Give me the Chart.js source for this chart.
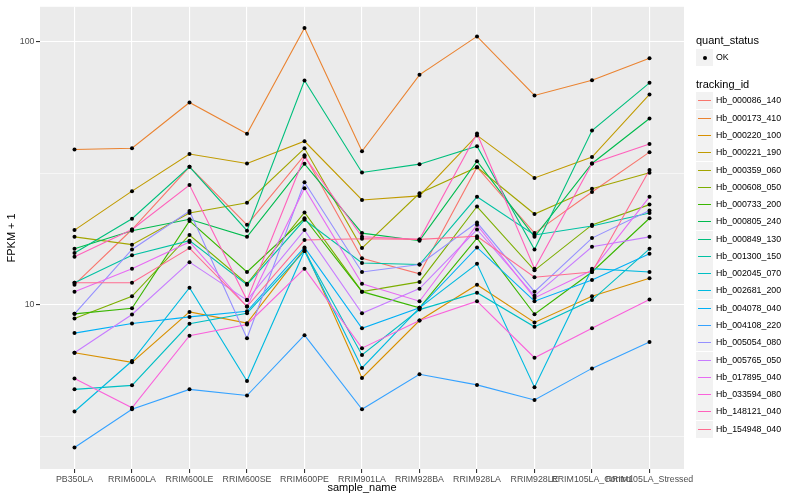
<!DOCTYPE html>
<html>
<head>
<meta charset="utf-8">
<script src="https://cdn.jsdelivr.net/npm/chart.js@4.4.0/dist/chart.umd.min.js"></script>
<style>
  body { margin: 0; background: #fff; }
  #wrap { position: relative; width: 800px; height: 500px; font-family: "Liberation Sans", Arial, sans-serif; }
  #wrap canvas { position: absolute; left: 0; top: 0; }
  .ttl { position: absolute; font-size: 11px; line-height: 14px; white-space: nowrap; color: #000; }
  .key { position: absolute; width: 17px; height: 17px; background: #F2F2F2; }
  .lab { position: absolute; font-size: 8.8px; line-height: 17px; white-space: nowrap; color: #000; }
  .seg { position: absolute; left: 2px; width: 13px; height: 1px; }
</style>
</head>
<body>
<div id="wrap">
  <canvas id="FpkmPlot" width="800" height="500"></canvas>
</div>
<script>
const sampleNames = ['PB350LA', 'RRIM600LA', 'RRIM600LE', 'RRIM600SE', 'RRIM600PE', 'RRIM901LA',
  'RRIM928BA', 'RRIM928LA', 'RRIM928LE', 'RRIM105LA_Control', 'RRIM105LA_Stressed']

const trackingIds = ['Hb_000086_140', 'Hb_000173_410', 'Hb_000220_100', 'Hb_000221_190', 'Hb_000359_060',
  'Hb_000608_050', 'Hb_000733_200', 'Hb_000805_240', 'Hb_000849_130', 'Hb_001300_150',
  'Hb_002045_070', 'Hb_002681_200', 'Hb_004078_040', 'Hb_004108_220', 'Hb_005054_080',
  'Hb_005765_050', 'Hb_017895_040', 'Hb_033594_080', 'Hb_148121_040', 'Hb_154948_040']

const seriesColors = ['#F8766D', '#EA8331', '#D89000', '#C09B00', '#A3A500', '#7CAE00', '#39B600', '#00BB4E',
  '#00BF7D', '#00C1A3', '#00BFC4', '#00BAE0', '#00B0F6', '#35A2FF', '#9590FF', '#C77CFF',
  '#E76BF3', '#FA62DB', '#FF62BC', '#FF6C91']

// FPKM + 1, one value per sample_name
const hb_000086_140 = [11.9, 19.3, 33.4, 20.1, 37.0, 15.0, 13.1, 33.3, 18.7, 26.8, 38.0]
const hb_000173_410 = [38.9, 39.3, 58.7, 44.6, 112.7, 38.3, 74.8, 104.7, 62.4, 71.3, 86.5]
const hb_000220_100 = [6.56, 6.03, 9.38, 8.50, 16.3, 5.26, 8.70, 11.9, 8.55, 10.75, 12.6]
const hb_000221_190 = [19.2, 27.0, 37.4, 34.4, 41.8, 25.0, 25.9, 44.0, 30.3, 36.4, 63.0]
const hb_000359_060 = [18.1, 16.9, 22.3, 24.4, 39.3, 16.4, 26.5, 33.3, 22.1, 27.6, 31.7]
const hb_000608_050 = [8.85, 10.75, 18.4, 12.0, 22.4, 11.2, 12.2, 23.6, 13.5, 20.1, 24.0]
const hb_000733_200 = [9.22, 9.68, 20.8, 13.3, 21.3, 11.2, 9.72, 17.9, 9.19, 13.3, 21.3]
const hb_000805_240 = [16.3, 19.1, 21.1, 18.1, 34.3, 18.7, 17.5, 35.1, 18.1, 34.4, 51.0]
const hb_000849_130 = [15.7, 21.2, 33.4, 19.1, 71.2, 31.8, 34.2, 40.0, 16.2, 45.9, 69.7]
const hb_001300_150 = [12.1, 15.4, 17.5, 11.9, 21.0, 14.4, 14.2, 25.7, 18.4, 19.9, 22.3]
const hb_002045_070 = [4.76, 4.93, 8.45, 9.27, 16.0, 6.43, 9.57, 11.1, 8.23, 10.4, 16.3]
const hb_002681_200 = [3.92, 6.10, 11.6, 5.12, 16.0, 5.74, 9.72, 14.3, 4.85, 13.7, 13.3]
const hb_004078_040 = [7.79, 8.47, 8.98, 9.43, 16.5, 8.13, 9.72, 16.5, 10.3, 12.4, 15.6]
const hb_004108_220 = [2.86, 4.00, 4.76, 4.51, 7.65, 4.00, 5.43, 4.95, 4.34, 5.72, 7.20]
const hb_005054_080 = [9.22, 16.2, 22.7, 7.45, 29.2, 13.3, 14.2, 20.5, 11.2, 17.9, 22.8]
const hb_005765_050 = [6.56, 9.17, 14.5, 10.4, 19.2, 9.27, 11.5, 19.3, 10.8, 16.6, 18.1]
const hb_017895_040 = [11.2, 13.7, 17.3, 9.83, 27.7, 12.0, 10.3, 20.1, 10.6, 13.5, 25.7]
const hb_033594_080 = [5.23, 4.05, 7.61, 8.40, 13.7, 6.83, 8.70, 10.3, 6.28, 8.13, 10.45]
const hb_148121_040 = [15.2, 19.3, 28.5, 10.4, 36.5, 18.1, 17.7, 44.7, 13.7, 34.4, 40.8]
const hb_154948_040 = [12.1, 12.1, 16.4, 9.83, 17.6, 17.8, 17.7, 18.2, 12.7, 13.3, 32.5]

const seriesValues = [hb_000086_140, hb_000173_410, hb_000220_100, hb_000221_190, hb_000359_060,
  hb_000608_050, hb_000733_200, hb_000805_240, hb_000849_130, hb_001300_150,
  hb_002045_070, hb_002681_200, hb_004078_040, hb_004108_220, hb_005054_080,
  hb_005765_050, hb_017895_040, hb_033594_080, hb_148121_040, hb_154948_040]

const yMajorTicks = [10, 100]
const yMinorTicks = [3.1623, 31.623]

const family = '"Liberation Sans", Arial, sans-serif'

const panelBg = {
  id: 'panelBg',
  beforeDraw(chart) {
    const { ctx, chartArea: a } = chart
    ctx.save()
    ctx.fillStyle = '#EBEBEB'
    ctx.fillRect(a.left, a.top, a.right - a.left, a.bottom - a.top)
    ctx.restore()
  }
}

const lineSets = trackingIds.map((id, i) => ({
  label: id,
  data: seriesValues[i].map((v, j) => ({ x: j, y: v })),
  borderColor: seriesColors[i],
  borderWidth: 1.1,
  pointRadius: 0,
  showLine: true,
  fill: false,
  tension: 0,
  order: 100 - i
}))

const pointSet = {
  label: 'OK',
  data: seriesValues.flatMap(s => s.map((v, j) => ({ x: j, y: v }))),
  showLine: false,
  pointRadius: 2,
  pointBackgroundColor: '#000',
  pointBorderWidth: 0,
  order: 0
}

new Chart(document.getElementById('FpkmPlot'), {
  type: 'scatter',
  data: { datasets: [...lineSets, pointSet] },
  options: {
    responsive: false,
    animation: false,
    devicePixelRatio: 1,
    layout: { padding: { top: 5, right: 116, left: 0, bottom: 0 } },
    plugins: { legend: { display: false }, tooltip: { enabled: false } },
    scales: {
      x: {
        type: 'linear',
        min: -0.6,
        max: 10.6,
        afterBuildTicks: s => { s.ticks = sampleNames.map((n, i) => ({ value: i })) },
        afterFit: s => { s.height = 31 },
        ticks: {
          autoSkip: false, maxRotation: 0, minRotation: 0, padding: 1,
          color: '#4D4D4D', font: { size: 8.8, family },
          callback: v => sampleNames[v]
        },
        grid: { color: '#FFFFFF', lineWidth: 1.1, tickColor: '#333333', tickLength: 4 },
        border: { display: false },
        title: { display: true, text: 'sample_name', color: '#000', font: { size: 11, family }, padding: { top: 0, bottom: 5 } }
      },
      y: {
        type: 'logarithmic',
        min: 2.37,
        max: 135.7,
        afterBuildTicks: s => {
          s.ticks = yMinorTicks.concat(yMajorTicks).sort((a, b) => a - b).map(v => ({ value: v }))
        },
        afterFit: s => { s.width = 40 },
        ticks: {
          padding: 1.5, color: '#4D4D4D', font: { size: 8.8, family },
          callback: v => yMajorTicks.includes(v) ? String(v) : ''
        },
        grid: {
          color: '#FFFFFF',
          lineWidth: c => yMajorTicks.includes(c.tick.value) ? 1.1 : 0.55,
          tickColor: c => yMajorTicks.includes(c.tick.value) ? '#333333' : 'rgba(0,0,0,0)',
          tickLength: 4
        },
        border: { display: false },
        title: { display: true, text: 'FPKM + 1', color: '#000', font: { size: 11, family }, padding: { top: 5, bottom: 0 } }
      }
    }
  },
  plugins: [panelBg]
})

/* legend, ggplot style */
const wrap = document.getElementById('wrap')
const keyLeft = 696
const keyH = 17.28
function addEl(cls, left, top, text) {
  const el = document.createElement('div')
  el.className = cls
  el.style.left = left + 'px'
  el.style.top = top + 'px'
  if (text) el.textContent = text
  wrap.appendChild(el)
  return el
}
addEl('ttl', keyLeft, 33, 'quant_status')
const okKey = addEl('key', keyLeft, 49)
okKey.innerHTML = '<div style="position:absolute;left:6.5px;top:6.5px;width:4px;height:4px;border-radius:50%;background:#000"></div>'
addEl('lab', keyLeft + 20, 49, 'OK')
addEl('ttl', keyLeft, 77, 'tracking_id')
trackingIds.forEach((id, i) => {
  const top = Math.round(92.4 + i * keyH)
  const k = addEl('key', keyLeft, top)
  const seg = document.createElement('div')
  seg.className = 'seg'
  seg.style.top = '8px'
  seg.style.background = seriesColors[i]
  k.appendChild(seg)
  addEl('lab', keyLeft + 20, top, id)
})
</script>
</body>
</html>
